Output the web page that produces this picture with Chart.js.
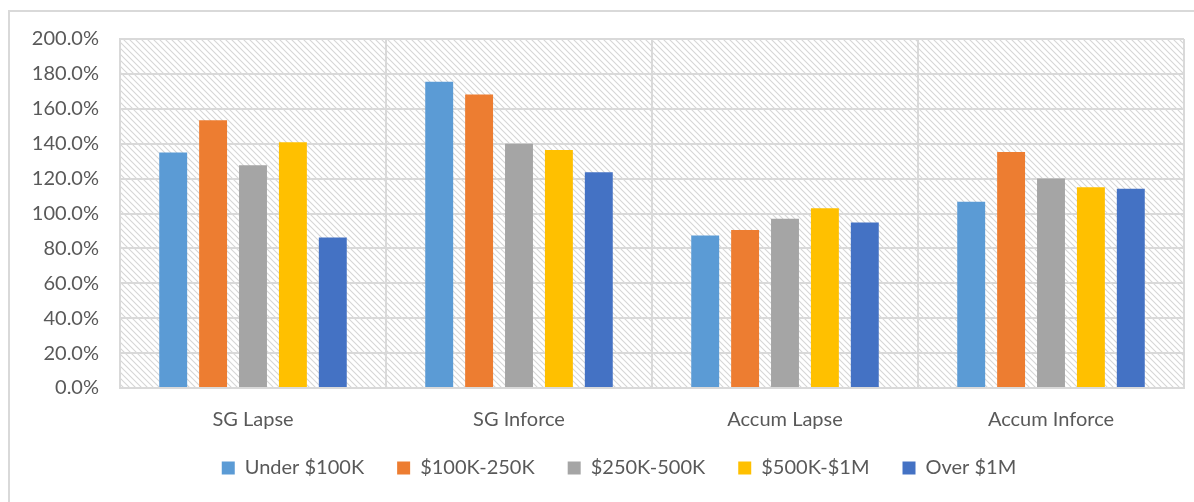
<!DOCTYPE html>
<html>
<head>
<meta charset="utf-8">
<script src="https://cdn.jsdelivr.net/npm/chart.js@4"></script>
<style>
  html, body { margin: 0; padding: 0; background: #fff; overflow: hidden; }
  #frame { position: absolute; left: 8px; top: 10px; width: 1300px; height: 600px; border: 2px solid #d9d9d9; }
  #wrap { position: absolute; left: 0; top: 0; width: 1194px; height: 502px; }
</style>
</head>
<body>
<div id="frame"></div>
<div id="wrap"><canvas id="chart"></canvas></div>
<script>
const categories = ['SG Lapse', 'SG Inforce', 'Accum Lapse', 'Accum Inforce'];
const seriesNames = ['Under $100K', '$100K-250K', '$250K-500K', '$500K-$1M', 'Over $1M'];
const under100k = [134.9, 175.5, 87.4, 106.8];
const k100to250 = [153.4, 168.2, 90.5, 135.2];
const k250to500 = [127.6, 140.0, 97.0, 120.1];
const k500to1m = [140.9, 136.4, 103.0, 115.0];
const over1m = [86.3, 123.7, 94.9, 114.2];
const seriesColors = ['#5b9bd5', '#ed7d31', '#a5a5a5', '#ffc000', '#4472c4'];
const yMin = 0, yMax = 200, yStep = 20;

const allValues = [under100k, k100to250, k250to500, k500to1m, over1m];

// diagonal hatch for plot area background
function makeHatch() {
  const c = document.createElement('canvas');
  c.width = 6; c.height = 6;
  const g = c.getContext('2d');
  g.fillStyle = '#ffffff';
  g.fillRect(0, 0, 6, 6);
  g.strokeStyle = '#d6d6d6';
  g.lineWidth = 1.1;
  g.beginPath();
  g.moveTo(-1, -1); g.lineTo(7, 7);
  g.moveTo(-1, 5); g.lineTo(1, 7);
  g.moveTo(5, -1); g.lineTo(7, 1);
  g.stroke();
  return c;
}

const hatchPlugin = {
  id: 'hatch',
  beforeDraw(chart) {
    const { ctx, chartArea: a } = chart;
    ctx.save();
    ctx.fillStyle = ctx.createPattern(makeHatch(), 'repeat');
    ctx.fillRect(a.left, a.top, a.right - a.left, a.bottom - a.top);
    ctx.restore();
  }
};

// nudge the legend so it sits where the original one does
const legendShift = {
  id: 'legendShift',
  afterLayout(chart) {
    const lg = chart.legend;
    if (!lg) return;
    lg.left += 27; lg.right += 27;
    lg.top -= 27; lg.bottom -= 27;
  }
};

const font = { family: 'Lato', size: 20 };

new Chart(document.getElementById('chart'), {
  type: 'bar',
  data: {
    labels: categories,
    datasets: seriesNames.map((name, i) => ({
      label: name,
      data: allValues[i],
      backgroundColor: seriesColors[i],
      borderWidth: 0,
      categoryPercentage: 0.75,
      barPercentage: 0.7
    }))
  },
  options: {
    responsive: true,
    maintainAspectRatio: false,
    animation: false,
    layout: { padding: { left: 0, right: 10, top: 39, bottom: -13 } },
    plugins: {
      tooltip: { enabled: false },
      legend: {
        position: 'bottom',
        labels: {
          color: '#595959',
          font: font,
          boxWidth: 13,
          boxHeight: 13,
          padding: 33
        }
      }
    },
    scales: {
      x: {
        grid: { color: '#d9d9d9', lineWidth: 2, offset: true, drawTicks: false },
        border: { color: '#d9d9d9', width: 2 },
        ticks: { color: '#595959', font: font, padding: 20 }
      },
      y: {
        min: yMin,
        max: yMax,
        afterFit(scale) { scale.width = 120; },
        grid: { color: '#d9d9d9', lineWidth: 2, drawTicks: false },
        border: { color: '#d9d9d9', width: 2 },
        ticks: {
          stepSize: yStep,
          color: '#595959',
          font: font,
          padding: 21,
          callback: (v, i) => (yMin + i * yStep).toFixed(1) + '%'
        }
      }
    }
  },
  plugins: [hatchPlugin, legendShift]
});
</script>
</body>
</html>
